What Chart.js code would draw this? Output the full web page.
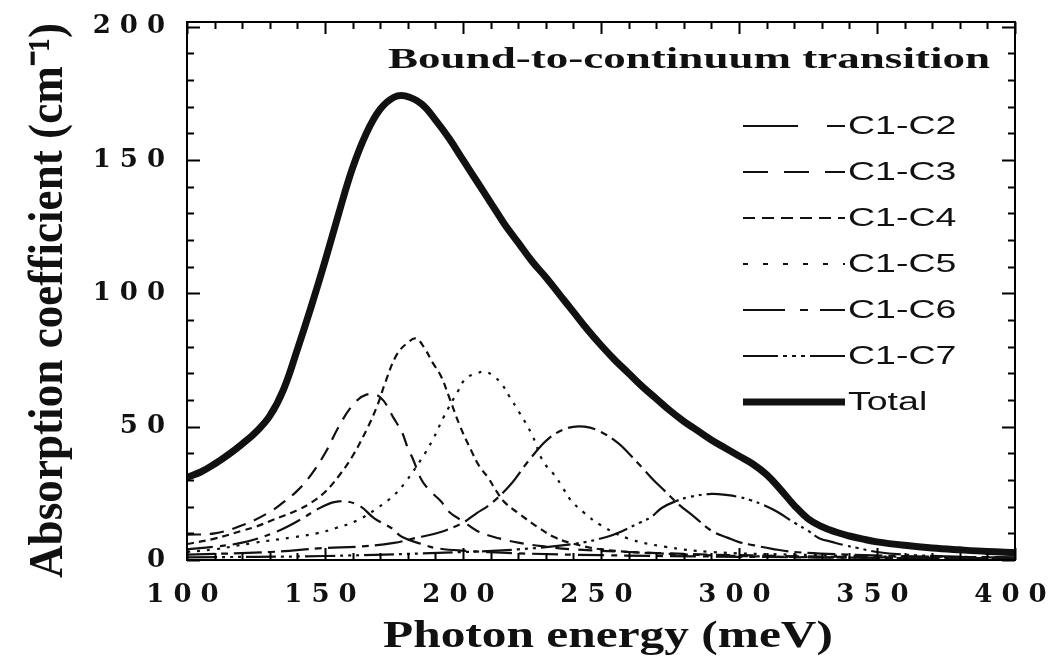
<!DOCTYPE html>
<html>
<head>
<meta charset="utf-8">
<script src="https://cdn.jsdelivr.net/npm/chart.js@4.4.1/dist/chart.umd.min.js"></script>
<style>
  html, body { margin: 0; padding: 0; background: #fff; }
  canvas { display: block; }
</style>
</head>
<body>
<canvas id="absorptionChart" width="1052" height="658"></canvas>
<script>
// Photon energy (meV) / absorption coefficient (cm^-1)
const c12Energy = [100, 110, 120, 131, 140, 149, 155, 162, 168, 174, 178, 185, 190, 200, 220, 250, 300, 350, 400];
const c12Abs    = [4, 5, 6.5, 10, 14.5, 20, 22, 20.6, 15.5, 12, 8.6, 6, 4.5, 3.5, 2.5, 1.8, 1.2, 0.8, 0.5];

const c13Energy = [100, 110, 120, 130, 135, 140, 145, 150, 155, 160, 165, 170, 175, 178, 180, 182, 185, 188, 192, 195, 200, 205, 210, 220, 230, 240, 260, 280, 300, 350, 400];
const c13Abs    = [9.5, 10, 13, 18, 21.7, 26, 32, 40, 50, 58, 62, 61, 53, 47.6, 42, 37.5, 30, 26, 22, 18, 14.5, 11, 9, 6.5, 5, 4, 3, 2.3, 1.8, 1, 0.6];

const c14Energy = [100, 110, 120, 125, 131, 140, 145, 150, 155, 160, 165, 169, 172, 176, 180, 183, 186, 189, 192, 195, 199, 203, 206, 209, 212, 215, 220, 227, 233, 239, 250, 270, 300, 350, 400];
const c14Abs    = [6, 8, 11, 12.5, 15, 18.7, 21.5, 25.5, 31.5, 39, 48.7, 58, 67, 77, 81.5, 83, 79.5, 74, 69, 61, 50, 41, 35, 31, 26, 21.7, 17.6, 12.4, 8.6, 6.4, 4, 2.5, 1.5, 0.8, 0.5];

const c15Energy = [100, 110, 124, 139, 147, 154, 162, 169, 175, 179, 185, 189, 193, 198, 201, 205, 208, 211, 214, 217, 220, 225, 229, 233, 236, 239, 244, 250, 260, 273, 290, 320, 360, 400];
const c15Abs    = [3, 4, 6.4, 8.6, 10, 12, 15, 19.5, 24.3, 29, 38, 45, 53.6, 63, 68, 70, 70.5, 69, 66, 61, 56, 47, 37, 32, 27.4, 22.5, 17.6, 13, 8, 5, 3, 2, 1.2, 0.8];

const c16Energy = [100, 130, 150, 162, 175, 183, 192, 200, 205, 210, 217, 224, 231, 238, 244, 250, 256, 260, 265, 269, 273, 278, 284, 290, 296, 300, 305, 312, 320, 340, 370, 400];
const c16Abs    = [2, 3, 4.5, 5, 6.4, 8.3, 10.5, 14, 17.6, 21, 28, 37.5, 45.5, 49.5, 50, 48, 44, 40, 34.5, 30, 26, 21, 16, 11, 8.3, 6.7, 5.6, 4.2, 3, 2, 1.3, 1];

const c17Energy = [100, 150, 200, 220, 240, 252, 258, 264, 268, 272, 277, 282, 290, 296, 300, 304, 309, 314, 320, 325, 329, 334, 338, 343, 350, 360, 380, 400];
const c17Abs    = [1, 1.5, 3, 4, 6, 8.6, 11, 14, 16, 19.5, 22, 23.6, 24.8, 24.3, 23.6, 22.5, 20.6, 18, 14, 11, 8.2, 6.7, 5.6, 4.5, 3, 2, 1.2, 0.8];

const totalEnergy = [100, 105, 110, 115, 120, 125, 130, 135, 140, 145, 150, 155, 160, 165, 170, 175, 179, 185, 190, 195, 200, 205, 210, 215, 220, 225, 230, 235, 240, 245, 250, 255, 260, 265, 270, 275, 280, 285, 290, 295, 300, 305, 310, 315, 320, 325, 330, 335, 340, 345, 350, 360, 370, 380, 390, 400];
const totalAbs    = [31, 33, 36, 39.5, 43.5, 48, 54, 64, 79, 95, 112, 130, 147, 160, 169, 173.5, 174, 171, 165, 158, 150, 142, 134, 126, 119, 112, 106, 99.5, 93, 86.5, 80.5, 75, 70, 65, 60.5, 56, 52, 48.5, 45, 42, 39, 36, 32, 26.5, 20.5, 15.5, 12.5, 10.5, 9, 7.8, 6.8, 5.5, 4.5, 3.8, 3.2, 2.8];

const seriesNames = ["C1-C2", "C1-C3", "C1-C4", "C1-C5", "C1-C6", "C1-C7", "Total"];
const xTickValues = [100, 150, 200, 250, 300, 350, 400];
const yTickValues = [0, 50, 100, 150, 200];

const plotTitle = "Bound-to-continuum transition";
const xTitle = "Photon energy (meV)";
const yTitle = "Absorption coefficient (cm\u207B\u00B9)";

function toPoints(xs, ys) {
    return xs.map((x, i) => ({ x: x, y: ys[i] }));
}

// draw text squeezed/stretched horizontally between two x positions
function drawFitted(ctx, text, font, left, right, baseline) {
    ctx.save();
    ctx.font = font;
    ctx.textAlign = "left";
    ctx.textBaseline = "alphabetic";
    const w = ctx.measureText(text).width;
    ctx.translate(left, baseline);
    ctx.scale((right - left) / w, 1);
    ctx.fillText(text, 0, 0);
    ctx.restore();
}

const framePlugin = {
    id: "frame",
    beforeDraw(chart) {
        // wide look of the tick numbers
        chart.ctx.letterSpacing = "9px";
    },
    afterDraw(chart) {
        const ctx = chart.ctx;
        ctx.letterSpacing = "0px";
        const area = chart.chartArea;
        const xs = chart.scales.x;
        const ys = chart.scales.y;

        ctx.save();
        ctx.strokeStyle = "#000";
        ctx.lineWidth = 2;
        ctx.strokeRect(area.left, area.top, area.right - area.left, area.bottom - area.top);

        // inward ticks on all four sides
        ctx.beginPath();
        for (let v = 100; v <= 400; v += 10) {
            const px = Math.round(xs.getPixelForValue(v)) + 0.5;
            const len = v % 50 === 0 ? 12 : 7;
            ctx.moveTo(px, area.bottom); ctx.lineTo(px, area.bottom - len);
            ctx.moveTo(px, area.top); ctx.lineTo(px, area.top + len);
        }
        for (let v = 0; v <= 200; v += 10) {
            const py = Math.round(ys.getPixelForValue(v)) + 0.5;
            const len = v % 50 === 0 ? 13 : 7;
            ctx.moveTo(area.left, py); ctx.lineTo(area.left + len, py);
            ctx.moveTo(area.right, py); ctx.lineTo(area.right - len, py);
        }
        ctx.stroke();

        ctx.fillStyle = "#111";
        drawFitted(ctx, plotTitle, 'bold 30px "Liberation Serif"', 388, 990, 68);
        drawFitted(ctx, xTitle, 'bold 38px "Liberation Serif"', 383, 833, 647);

        // rotated y title
        ctx.save();
        ctx.font = 'bold 34px "Liberation Serif"';
        ctx.textAlign = "left";
        ctx.textBaseline = "alphabetic";
        const yw = ctx.measureText(yTitle).width;
        ctx.translate(62, 578);
        ctx.rotate(-Math.PI / 2);
        ctx.scale(555 / yw, 1.45);
        ctx.fillText(yTitle, 0, 0);
        ctx.restore();

        // legend
        chart.data.datasets.forEach((ds, i) => {
            const rowY = 126 + i * 46;
            ctx.save();
            ctx.strokeStyle = "#111";
            ctx.lineWidth = ds.borderWidth;
            ctx.setLineDash(ds.legendDash);
            ctx.beginPath();
            ctx.moveTo(743, rowY);
            ctx.lineTo(845, rowY);
            ctx.stroke();
            ctx.restore();

            ctx.save();
            ctx.font = '25px "Liberation Sans"';
            ctx.textAlign = "left";
            ctx.textBaseline = "middle";
            ctx.fillStyle = "#111";
            ctx.translate(848, rowY + 1);
            ctx.scale(1.5, 1);
            ctx.fillText(ds.label, 0, 0);
            ctx.restore();
        });
        ctx.restore();
    }
};

const tickFont = { family: "DejaVu Serif", weight: "bold", size: 26 };

new Chart(document.getElementById("absorptionChart"), {
    type: "line",
    data: {
        datasets: [
            { label: seriesNames[0], data: toPoints(c12Energy, c12Abs), borderDash: [26, 7, 6, 7], legendDash: [55, 29, 18, 40] },
            { label: seriesNames[1], data: toPoints(c13Energy, c13Abs), borderDash: [14, 9], legendDash: [25, 16] },
            { label: seriesNames[2], data: toPoints(c14Energy, c14Abs), borderDash: [7, 5], legendDash: [12, 7] },
            { label: seriesNames[3], data: toPoints(c15Energy, c15Abs), borderDash: [3, 7], legendDash: [5, 15] },
            { label: seriesNames[4], data: toPoints(c16Energy, c16Abs), borderDash: [28, 6, 7, 6], legendDash: [42, 15, 8, 12, 30] },
            { label: seriesNames[5], data: toPoints(c17Energy, c17Abs), borderDash: [30, 5, 3, 5, 3, 5, 3, 5], legendDash: [35, 5, 4, 5, 4, 5, 4, 5, 40] },
            { label: seriesNames[6], data: toPoints(totalEnergy, totalAbs), borderDash: [], legendDash: [], borderWidth: 7 }
        ].map(ds => Object.assign({
            borderColor: "#111",
            borderWidth: 2.2,
            pointRadius: 0,
            fill: false,
            tension: 0.4
        }, ds))
    },
    options: {
        responsive: false,
        animation: false,
        layout: { padding: { left: 0, top: 22, right: 37, bottom: 0 } },
        plugins: {
            legend: { display: false },
            tooltip: { enabled: false }
        },
        scales: {
            x: {
                type: "linear",
                min: 100,
                max: 400,
                grid: { display: false, drawTicks: false },
                border: { display: false },
                afterBuildTicks: (scale) => { scale.ticks = xTickValues.map(v => ({ value: v })); },
                afterFit: (scale) => {
                    scale.height = 98;
                    scale.paddingLeft = 0; scale.paddingRight = 0;
                    scale.paddingTop = 0; scale.paddingBottom = 0;
                },
                ticks: { padding: 20, color: "#111", font: tickFont }
            },
            y: {
                type: "linear",
                min: 0,
                max: 201.7,
                grid: { display: false, drawTicks: false },
                border: { display: false },
                afterBuildTicks: (scale) => { scale.ticks = yTickValues.map(v => ({ value: v })); },
                afterFit: (scale) => {
                    scale.width = 187;
                    scale.paddingLeft = 0; scale.paddingRight = 0;
                    scale.paddingTop = 0; scale.paddingBottom = 0;
                },
                ticks: { padding: 13, color: "#111", font: tickFont }
            }
        }
    },
    plugins: [framePlugin]
});
</script>
</body>
</html>
